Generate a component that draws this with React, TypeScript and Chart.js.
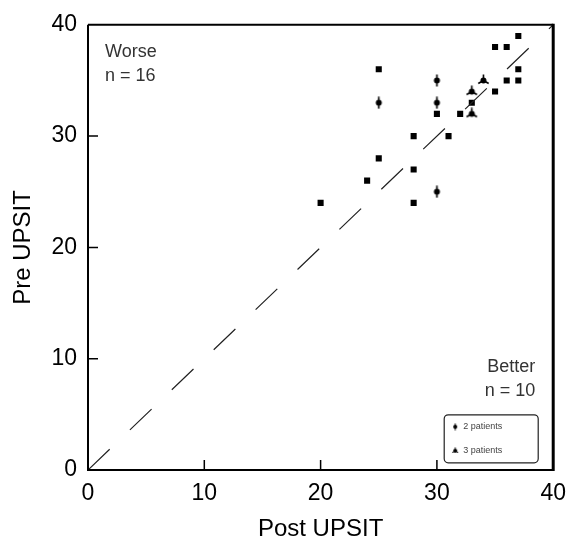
import React, { useEffect, useRef } from "react";
import { Chart, registerables } from "chart.js";
Chart.register(...registerables);

// Post UPSIT (x) vs Pre UPSIT (y)
const singlePatients = [
  { x: 20, y: 24 }, { x: 24, y: 26 }, { x: 25, y: 36 }, { x: 25, y: 28 },
  { x: 28, y: 30 }, { x: 28, y: 27 }, { x: 28, y: 24 }, { x: 30, y: 32 },
  { x: 31, y: 30 }, { x: 32, y: 32 }, { x: 33, y: 33 }, { x: 35, y: 38 },
  { x: 36, y: 38 }, { x: 37, y: 39 }, { x: 35, y: 34 }, { x: 36, y: 35 },
  { x: 37, y: 35 }, { x: 37, y: 36 },
];
const twoPatients = [
  { x: 25, y: 33 }, { x: 30, y: 35 }, { x: 30, y: 33 }, { x: 30, y: 25 },
];
const threePatients = [
  { x: 34, y: 35 }, { x: 33, y: 34 }, { x: 33, y: 32 },
];
const identityLine = [{ x: 0, y: 0 }, { x: 40, y: 40 }];
const axisTicks = [0, 10, 20, 30, 40];
const innerTicks = [10, 20, 30];
const worseLabel = ["Worse", "n = 16"];
const betterLabel = ["Better", "n = 10"];
const legendLabels = ["2 patients", "3 patients"];

const FONT = "'Liberation Sans', Arial, Helvetica, sans-serif";

function makeSunflower(petals: number, size: number, dot: number, lw: number) {
  const c = document.createElement("canvas");
  c.width = size;
  c.height = size;
  const g = c.getContext("2d")!;
  const m = size / 2;
  g.fillStyle = "#000";
  g.strokeStyle = "#000";
  g.lineWidth = lw;
  g.beginPath();
  g.arc(m, m, dot, 0, Math.PI * 2);
  g.fill();
  for (let i = 0; i < petals; i++) {
    const a = -Math.PI / 2 + (i * 2 * Math.PI) / petals;
    g.beginPath();
    g.moveTo(m, m);
    g.lineTo(m + Math.cos(a) * (m - 0.5), m + Math.sin(a) * (m - 0.5));
    g.stroke();
  }
  return c;
}

export default function App() {
  const ref = useRef<HTMLCanvasElement | null>(null);

  useEffect(() => {
    document.body.style.margin = "0";
    const canvas = ref.current!;
    const sun2 = makeSunflower(2, 13, 3, 1.6);
    const sun3 = makeSunflower(3, 13, 3, 1.6);
    const sun2s = makeSunflower(2, 8, 2, 1);
    const sun3s = makeSunflower(3, 8, 2, 1);

    const decor = {
      id: "decor",
      afterDraw(chart: any) {
        const { ctx, chartArea: a, scales } = chart;
        const xs = scales.x;
        const ys = scales.y;
        ctx.save();
        ctx.strokeStyle = "#000";
        // frame
        ctx.lineWidth = 2;
        ctx.beginPath();
        ctx.moveTo(a.left, a.top);
        ctx.lineTo(a.right, a.top);
        ctx.moveTo(a.left, a.top);
        ctx.lineTo(a.left, a.bottom);
        ctx.lineTo(a.right, a.bottom);
        ctx.stroke();
        ctx.lineWidth = 3;
        ctx.beginPath();
        ctx.moveTo(a.right, a.top - 1);
        ctx.lineTo(a.right, a.bottom + 1);
        ctx.stroke();
        // inward tick marks
        ctx.lineWidth = 1.5;
        ctx.beginPath();
        for (const v of innerTicks) {
          const px = xs.getPixelForValue(v);
          ctx.moveTo(px, a.bottom);
          ctx.lineTo(px, a.bottom - 10);
          const py = ys.getPixelForValue(v);
          ctx.moveTo(a.left, py);
          ctx.lineTo(a.left + 10, py);
        }
        ctx.stroke();
        // annotations
        ctx.fillStyle = "#333";
        ctx.font = `18px ${FONT}`;
        ctx.textBaseline = "middle";
        ctx.textAlign = "left";
        ctx.fillText(worseLabel[0], a.left + 17, a.top + 27);
        ctx.fillText(worseLabel[1], a.left + 17, a.top + 51);
        ctx.textAlign = "right";
        ctx.fillText(betterLabel[0], a.right - 18, a.top + 342);
        ctx.fillText(betterLabel[1], a.right - 18, a.top + 366);
        // legend box
        const bx = a.right - 109, by = a.top + 390, bw = 94, bh = 48;
        ctx.lineWidth = 1.2;
        ctx.strokeStyle = "#222";
        ctx.beginPath();
        (ctx as any).roundRect(bx, by, bw, bh, 4);
        ctx.stroke();
        ctx.drawImage(sun2s, bx + 7, by + 8);
        ctx.drawImage(sun3s, bx + 7, by + 32);
        ctx.font = `9px ${FONT}`;
        ctx.fillStyle = "#444";
        ctx.textAlign = "left";
        ctx.fillText(legendLabels[0], bx + 19, by + 12);
        ctx.fillText(legendLabels[1], bx + 19, by + 36);
        ctx.restore();
      },
    };

    const tickFont = { family: FONT, size: 23 };
    const titleFont = { family: FONT, size: 24 };

    const chart = new Chart(canvas, {
      type: "scatter",
      data: {
        datasets: [
          {
            type: "line",
            data: identityLine,
            borderColor: "#222",
            borderWidth: 1.2,
            borderDash: [30, 28],
            pointRadius: 0,
            fill: false,
          } as any,
          {
            data: singlePatients,
            pointStyle: "rect",
            pointRadius: 4.3,
            backgroundColor: "#000",
            borderColor: "#000",
            borderWidth: 0,
          },
          {
            data: twoPatients,
            pointStyle: sun2 as any,
            pointRadius: 6,
          },
          {
            data: threePatients,
            pointStyle: sun3 as any,
            pointRadius: 6,
          },
        ],
      },
      options: {
        animation: false,
        responsive: false,
        events: [],
        layout: { padding: { top: 20, right: 14, left: 0, bottom: 0 } },
        plugins: {
          legend: { display: false },
          tooltip: { enabled: false },
        },
        scales: {
          x: {
            type: "linear",
            min: 0,
            max: 40,
            afterBuildTicks: (s: any) => {
              s.ticks = axisTicks.map((v) => ({ value: v }));
            },
            afterFit: (s: any) => {
              s.height = 74;
            },
            grid: { display: false, drawTicks: false },
            border: { display: false },
            ticks: { padding: 10, color: "#000", font: tickFont, maxRotation: 0 },
            title: {
              display: true,
              text: "Post UPSIT",
              color: "#000",
              font: titleFont,
              padding: { top: 0, bottom: 0 },
            },
          },
          y: {
            type: "linear",
            min: 0,
            max: 40,
            afterBuildTicks: (s: any) => {
              s.ticks = axisTicks.map((v) => ({ value: v }));
            },
            afterFit: (s: any) => {
              s.width = 88;
            },
            grid: { display: false, drawTicks: false },
            border: { display: false },
            ticks: { padding: 11, color: "#000", font: tickFont },
            title: {
              display: true,
              text: "Pre UPSIT",
              color: "#000",
              font: titleFont,
              padding: { top: 9, bottom: 0 },
            },
          },
        },
      },
      plugins: [decor],
    });
    return () => chart.destroy();
  }, []);

  return <canvas ref={ref} width={576} height={544} style={{ display: "block" }} />;
}
